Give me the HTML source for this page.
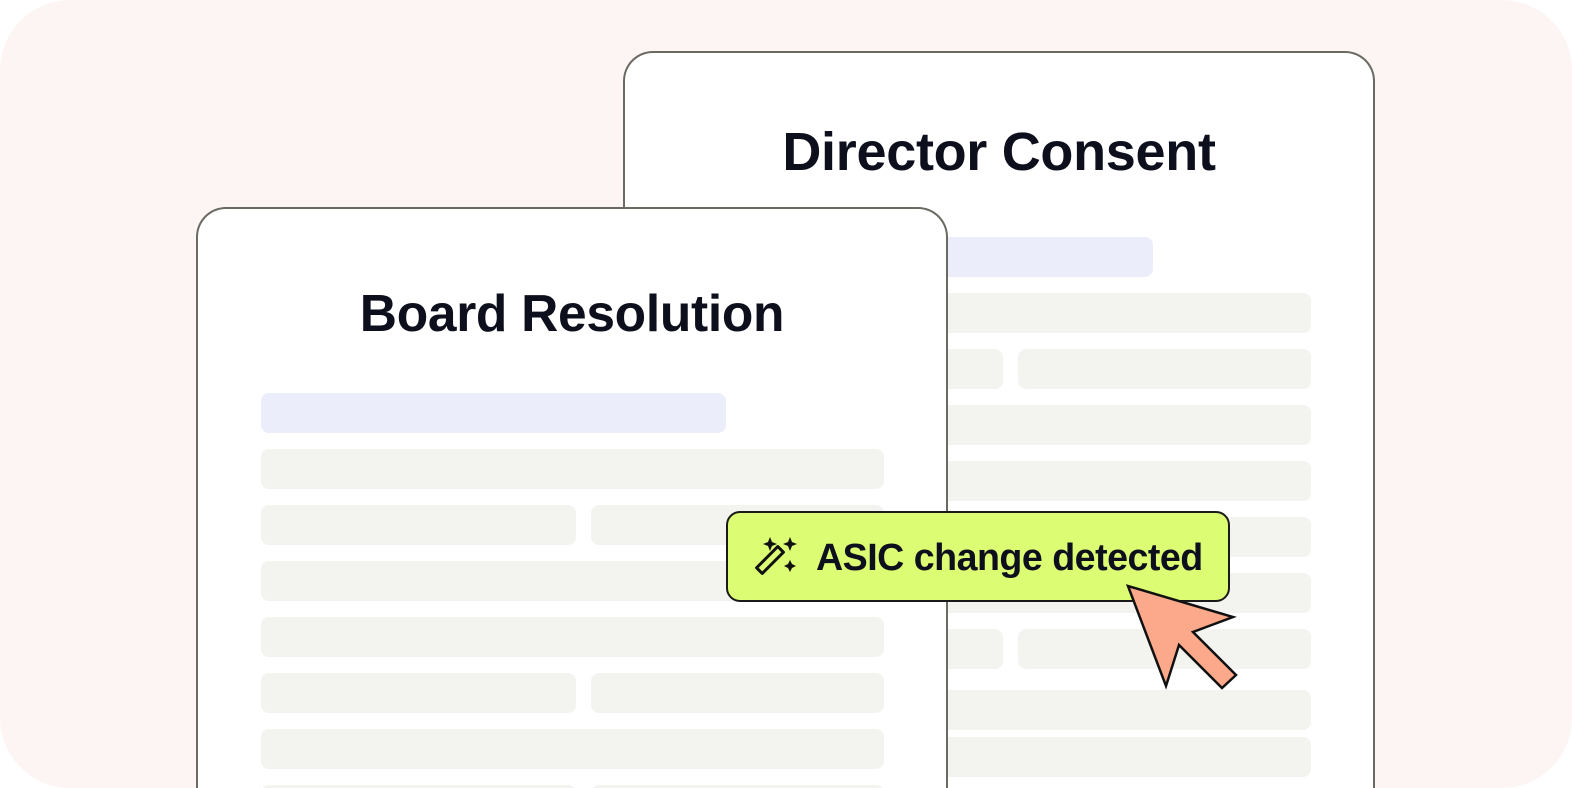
<!DOCTYPE html>
<html><head><style>
html,body{margin:0;padding:0;width:1572px;height:788px;overflow:hidden;background:#fff;font-family:"Liberation Sans",sans-serif;}
.wrap{position:relative;width:1572px;height:788px;overflow:hidden;}
.bg{position:absolute;left:0;top:0;width:1572px;height:788px;background:#fdf5f3;border-radius:70px;}
.card{position:absolute;background:#fff;border:2px solid #6b6a62;border-bottom:none;border-radius:30px 30px 0 0;width:748px;}
.t{position:absolute;left:0;right:0;text-align:center;font-weight:bold;font-size:54px;color:#0d0f1c;letter-spacing:-0.3px;}
.r{position:absolute;height:40px;background:#f3f3ef;border-radius:8px;}
.h{background:#ebedfb;}
</style></head><body><div class="wrap">
<div class="bg"></div>
<div class="card" style="left:623px;top:51px;height:737px;">
<div class="t" style="top:68px;">Director Consent</div>
</div>
<div class="r h" style="left:688px;top:237px;width:465px"></div>
<div class="r" style="left:688px;top:293px;width:623px"></div>
<div class="r" style="left:688px;top:349px;width:315px"></div>
<div class="r" style="left:1018px;top:349px;width:293px"></div>
<div class="r" style="left:688px;top:405px;width:623px"></div>
<div class="r" style="left:688px;top:461px;width:623px"></div>
<div class="r" style="left:688px;top:517px;width:623px"></div>
<div class="r" style="left:688px;top:573px;width:623px"></div>
<div class="r" style="left:688px;top:629px;width:315px"></div>
<div class="r" style="left:1018px;top:629px;width:293px"></div>
<div class="r" style="left:688px;top:690px;width:623px"></div>
<div class="r" style="left:688px;top:737px;width:623px"></div>
<div class="card" style="left:196px;top:207px;height:581px;">
<div class="t" style="top:74px;font-size:51.5px;">Board Resolution</div>
<div class="r h" style="left:63px;top:184px;width:465px"></div>
<div class="r" style="left:63px;top:240px;width:623px"></div>
<div class="r" style="left:63px;top:296px;width:315px"></div>
<div class="r" style="left:393px;top:296px;width:293px"></div>
<div class="r" style="left:63px;top:352px;width:623px"></div>
<div class="r" style="left:63px;top:408px;width:623px"></div>
<div class="r" style="left:63px;top:464px;width:315px"></div>
<div class="r" style="left:393px;top:464px;width:293px"></div>
<div class="r" style="left:63px;top:520px;width:623px"></div>
<div class="r" style="left:63px;top:576px;width:315px"></div>
<div class="r" style="left:393px;top:576px;width:293px"></div>
</div>
<div style="position:absolute;left:726px;top:511px;width:500px;height:87px;background:#dcfc74;border:2px solid #1a1a1a;border-radius:14px;"></div>
<div style="position:absolute;left:816px;top:536px;font-size:37.6px;font-weight:bold;color:#0d0f1c;letter-spacing:-0.5px;">ASIC change detected</div>
<svg style="position:absolute;left:0;top:0" width="1572" height="788">
<g fill="none" stroke="#111" stroke-width="3" stroke-linejoin="round">
<rect x="766" y="545" width="8" height="30" transform="rotate(45 770 560)" />
</g>
<g fill="#111">
<path d="M770 537 l2 5 5 2 -5 2 -2 5 -2 -5 -5 -2 5 -2z"/>
<path d="M790 537 l2 5 5 2 -5 2 -2 5 -2 -5 -5 -2 5 -2z"/>
<path d="M790 560 l2 4 4 2 -4 2 -2 4 -2 -4 -4 -2 4 -2z"/>
</g>
<path d="M1128 586 L1166 686 L1179 645 L1222 688 L1236 675 L1193 632 L1233 617 Z" fill="#fba98a" stroke="#111" stroke-width="2.5" stroke-linejoin="miter"/>
</svg>
</div></body></html>
